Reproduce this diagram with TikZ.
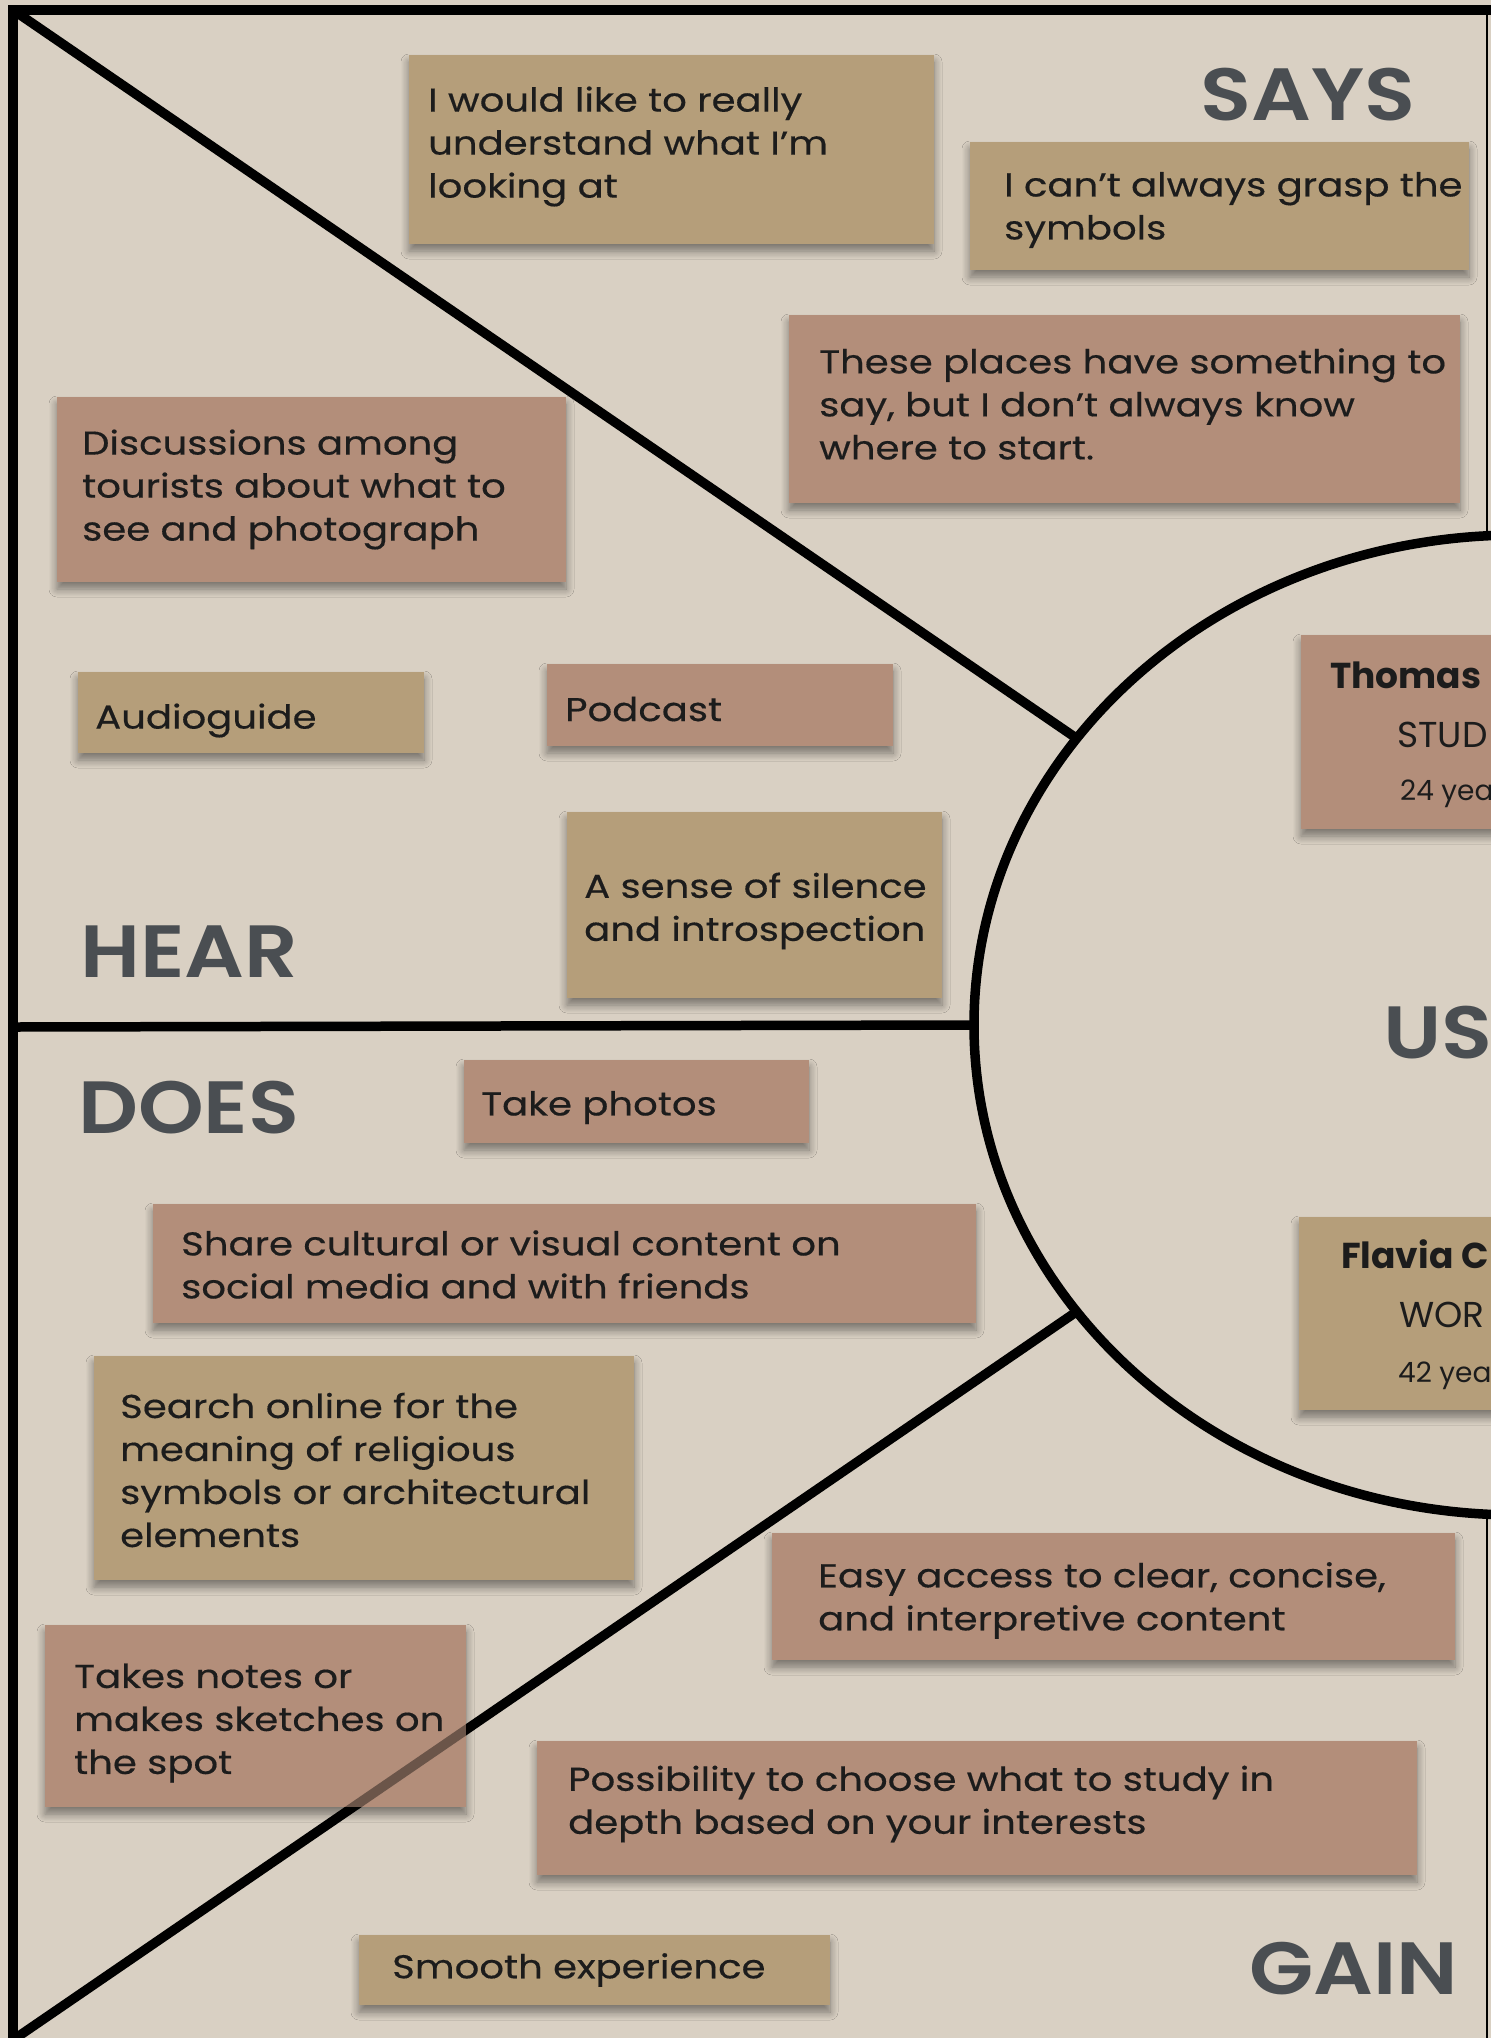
\documentclass[tikz,border=0pt]{standalone}
\usepackage{fontspec}
\setmainfont{Poppins}[FakeStretch=1.17, FakeBold=0.4]
\newfontfamily\headfont{Poppins SemiBold}[FakeStretch=1.13]
\newfontfamily\cardfont{Poppins}
\usetikzlibrary{shapes.geometric,shadows.blur}

\definecolor{paper}{RGB}{217,208,195}
\definecolor{tannote}{RGB}{181,158,122}
\definecolor{rosenote}{RGB}{179,142,122}
\definecolor{ink}{RGB}{28,28,28}
\definecolor{headink}{RGB}{74,78,82}

\tikzset{
  notebox/.style={rectangle, inner sep=0pt, outer sep=0pt, anchor=north west,
    blur shadow={shadow xshift=0pt, shadow yshift=-7pt, shadow blur radius=8pt,
                 shadow blur steps=8, shadow opacity=45}},
  notetext/.style={anchor=west, align=left, inner sep=0pt, text=ink,
    font=\fontsize{33}{43}\selectfont},
  heading/.style={anchor=base west, inner sep=0pt, text=headink,
    font=\headfont\fontsize{74}{74}\selectfont},
  cardname/.style={anchor=base west, inner sep=0pt, text=ink,
    font=\cardfont\bfseries\fontsize{36}{36}\selectfont},
  cardrole/.style={anchor=base west, inner sep=0pt, text=ink,
    font=\cardfont\fontsize{36}{36}\selectfont},
  cardage/.style={anchor=base west, inner sep=0pt, text=ink,
    font=\cardfont\fontsize{28}{28}\selectfont},
  frameline/.style={line width=9.5pt, black},
}

% sticky note: name, x, y, width, height, text inset, colour, text, text drop
\newcommand\stickynote[9]{%
  \node[notebox, fill=#7, minimum width=#4pt, minimum height=#5pt] (#1) at (#2,#3) {};
  \node[notetext] (#1-text) at ([xshift=#6pt, yshift=-#9pt]#1.west) {#8};
}

\begin{document}
\begin{tikzpicture}[x=1pt, y=-1pt]
\useasboundingbox (0,0) rectangle (1491,2038);
\fill[paper] (0,0) rectangle (1491,2038);

\begin{scope}
\clip (0,0) rectangle (1491,2038);

% frame corners and joints
\coordinate (tl) at (13,10);
\coordinate (tr) at (1495,10);
\coordinate (ml) at (13,1027);
\coordinate (bl) at (13,2040);
\coordinate (vtop) at (1487,10);
\coordinate (vbot) at (1487,2040);

% central user ellipse
\node[ellipse, draw, line width=9.5pt, minimum width=1088pt, minimum height=980pt,
      inner sep=0pt, outer sep=0pt] (user) at (1518,1025) {};

% outer frame
\draw[frameline, line join=miter] (tr) -- (tl) -- (bl);
% quadrant dividers
\draw[frameline] (tl) -- (user.147);
\draw[frameline] (ml) -- (user.west);
\draw[frameline] (user.213) -- (bl);
\draw[line width=2.5pt] (vtop) -- (vtop |- user.north);
\draw[line width=2.5pt] (vbot |- user.south) -- (vbot);

% section headings
\node[heading] (says) at (1200,120) {SAYS};
\node[heading] (hear) at (80,977) {HEAR};
\node[heading] (does) at (78,1133) {DOES};
\node[heading] (gain) at (1249,1994) {GAIN};
\node[heading] (us) at (1383,1058) {US};

% SAYS
\stickynote{says1}{409}{55}{525}{189}{19}{tannote}{I would like to really\\understand what I'm\\looking at}{-3}
\stickynote{says2}{970}{142}{499}{128}{34}{tannote}{I can't always grasp the\\symbols}{4}
\stickynote{says3}{789}{315}{671}{188}{30}{rosenote}{These places have something to\\say, but I don't always know\\where to start.}{-5}

% HEAR
\stickynote{hear1}{57}{397}{509}{185}{25}{rosenote}{Discussions among\\tourists about what to\\see and photograph}{0}
\stickynote{hear2}{78}{672}{346}{81}{17}{tannote}{Audioguide}{8}
\stickynote{hear3}{547}{664}{346}{82}{18}{rosenote}{Podcast}{4}
\stickynote{hear4}{567}{812}{375}{186}{17}{tannote}{A sense of silence\\and introspection}{6}

% DOES
\stickynote{does1}{464}{1060}{345}{83}{17}{rosenote}{Take photos}{6}
\stickynote{does2}{153}{1204}{823}{119}{28}{rosenote}{Share cultural or visual content on\\social media and with friends}{1}
\stickynote{does3}{94}{1356}{540}{224}{26}{tannote}{Search online for the\\meaning of religious\\symbols or architectural\\elements}{2}
\stickynote{does4}{45}{1625}{421}{182}{29}{rosenote}{Takes notes or\\makes sketches on\\the spot}{7}

% divider showing through the translucent note
\begin{scope}
\clip (does4.north west) rectangle (does4.south east);
\draw[frameline, opacity=0.4] (user.213) -- (bl);
\end{scope}

% GAIN
\stickynote{gain1}{772}{1533}{683}{127}{46}{rosenote}{Easy access to clear, concise,\\and interpretive content}{4}
\stickynote{gain2}{537}{1741}{880}{134}{31}{rosenote}{Possibility to choose what to study in\\depth based on your interests}{-4}
\stickynote{gain3}{359}{1935}{471}{70}{33}{tannote}{Smooth experience}{0}

% user cards
\node[notebox, fill=rosenote, minimum width=300pt, minimum height=194pt] (card1) at (1301,635) {};
\node[cardname] (card1-name) at (1330,688) {Thomas};
\node[cardrole] (card1-role) at (1397,747) {STUD};
\node[cardage] (card1-age) at (1400,800) {24 yea};

\node[notebox, fill=tannote, minimum width=300pt, minimum height=193pt] (card2) at (1299,1217) {};
\node[cardname] (card2-name) at (1341,1268) {Flavia C};
\node[cardrole] (card2-role) at (1399,1327) {WOR};
\node[cardage] (card2-age) at (1398,1382) {42 yea};
\end{scope}
\end{tikzpicture}
\end{document}
